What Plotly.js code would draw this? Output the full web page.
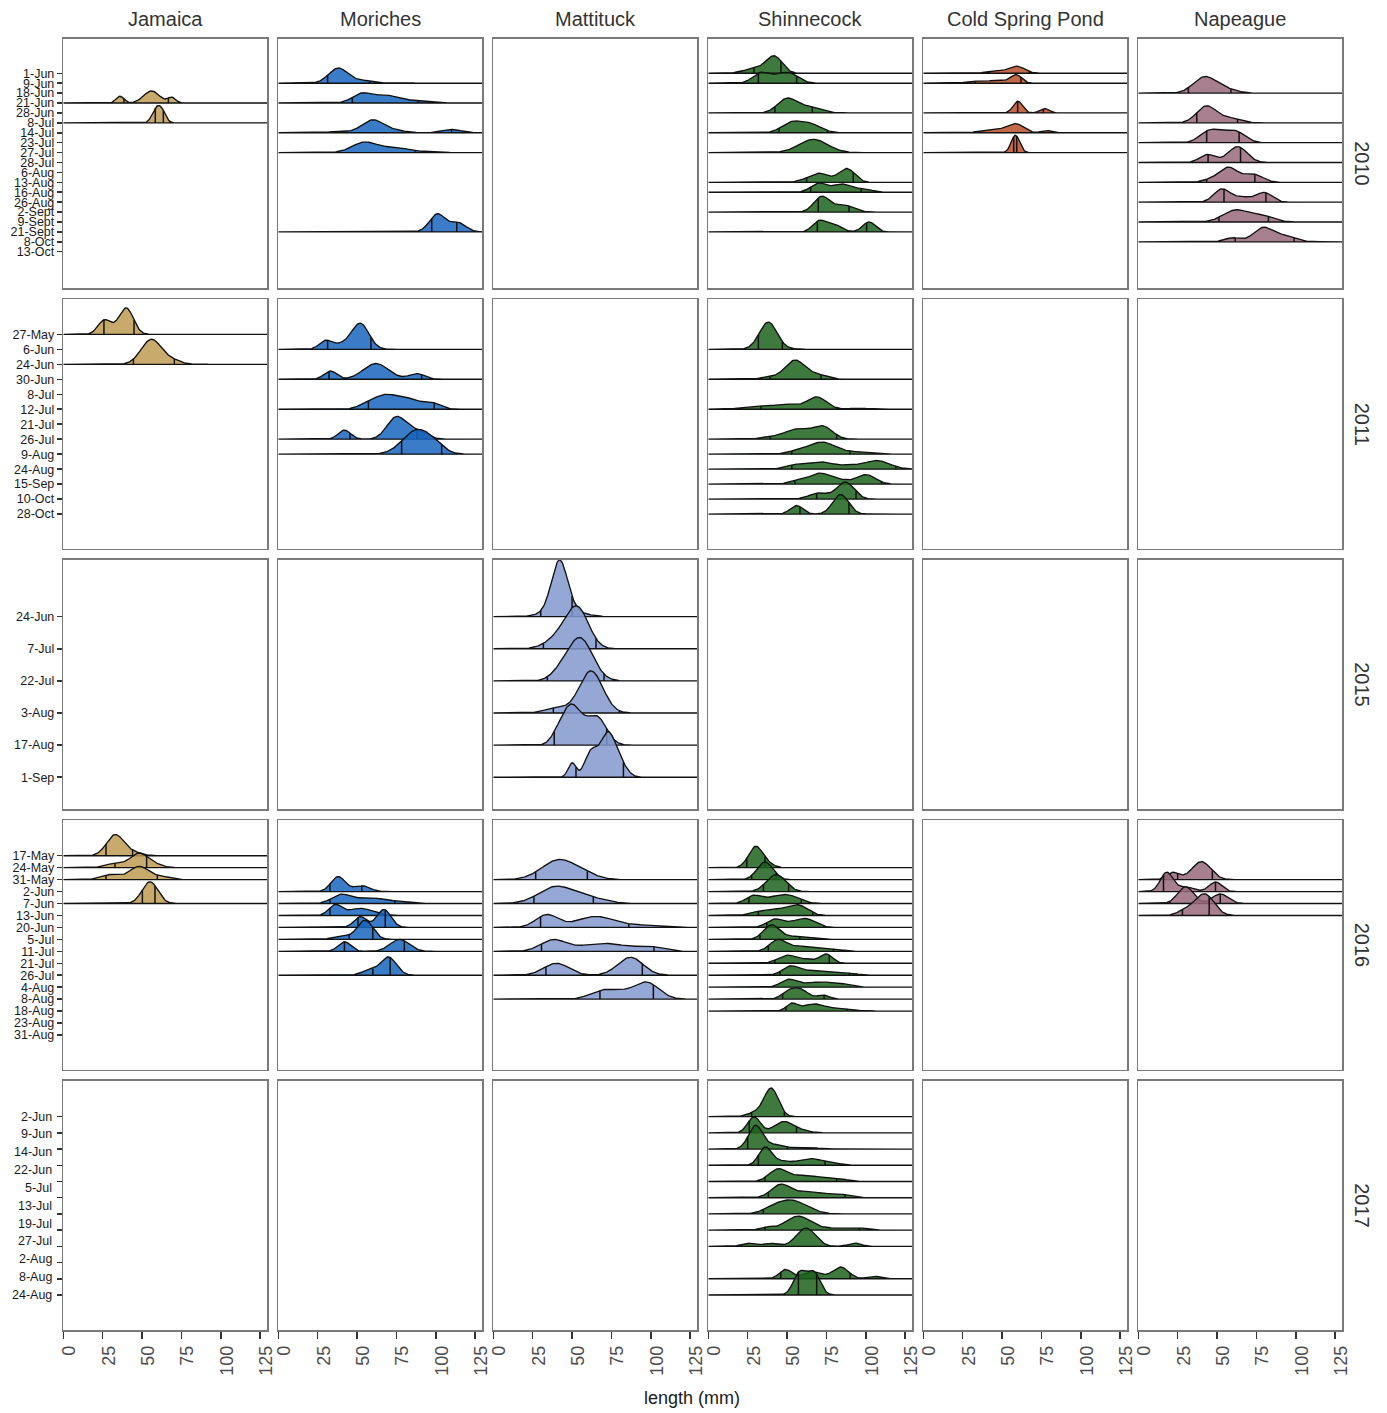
<!DOCTYPE html>
<html>
<head>
<meta charset="utf-8">
<script src="https://cdn.plot.ly/plotly-3.0.1.min.js"></script>
<style>html,body{margin:0;padding:0;background:#fff;}#chart{width:1387px;height:1413px;}</style>
</head>
<body>
<div id="chart"></div>
<script>
// ---------- categories ----------
const sites = ['Jamaica', 'Moriches', 'Mattituck', 'Shinnecock', 'Cold Spring Pond', 'Napeague'];
const years = ['2010', '2011', '2015', '2016', '2017'];
const dates2010 = ['1-Jun','9-Jun','18-Jun','21-Jun','28-Jun','8-Jul','14-Jul','23-Jul','27-Jul','28-Jul','6-Aug','13-Aug','16-Aug','26-Aug','2-Sept','9-Sept','21-Sept','8-Oct','13-Oct'];
const dates2011 = ['27-May','6-Jun','24-Jun','30-Jun','8-Jul','12-Jul','21-Jul','26-Jul','9-Aug','24-Aug','15-Sep','10-Oct','28-Oct'];
const dates2015 = ['24-Jun','7-Jul','22-Jul','3-Aug','17-Aug','1-Sep'];
const dates2016 = ['17-May','24-May','31-May','2-Jun','7-Jun','13-Jun','20-Jun','5-Jul','11-Jul','21-Jul','26-Jul','4-Aug','8-Aug','18-Aug','23-Aug','31-Aug'];
const labels2017 = ['2-Jun','9-Jun','14-Jun','22-Jun','5-Jul','13-Jul','19-Jul','27-Jul','2-Aug','8-Aug','24-Aug'];
const levels2017 = 12; // sampling dates on the 2017 axis (ticks), labels are spread over them
const xTicks = [0, 25, 50, 75, 100, 125];

// ---------- ridge data: lv = date index, comps = [mode, spread, height], q = quantile marks ----------
const jamaica2010 = [
  {lv:3, comps:[[36,2.5,0.68],[56,5,1.22],[68.8,2.5,0.55]], q:[38.5,66.7]},
  {lv:5, comps:[[58.5,2.5,1.2],[62.5,2.5,1.2]], q:[58.4,63.5]}
];
const moriches2010 = [
  {lv:1, comps:[[38,6,1.52],[53,6,0.27],[78,5,0.1]], q:[31.3,58]},
  {lv:3, comps:[[53,6,0.95],[68,7,0.75],[85,8,0.25]], q:[47,88.9]},
  {lv:6, comps:[[38,5,0.15],[60,7,1.3],[75,6,0.2],[110,6,0.33]], q:[38,110]},
  {lv:8, comps:[[55,8,1.05],[75,8,0.5],[95,6,0.1]], q:[37,86.8]},
  {lv:16, comps:[[101,5,1.8],[114,5,0.92]], q:[97.4,113.3]}
];
const shinnecock2010 = [
  {lv:0, comps:[[42,5,1.65],[30,7,0.5]], q:[29,46.1]},
  {lv:1, comps:[[33,5,1.0],[51,6,1.0],[42,5,0.4]], q:[31.8,56.1]},
  {lv:4, comps:[[50,6,1.42],[64,7,0.6]], q:[42.3,66]},
  {lv:6, comps:[[52,6,0.9],[64,7,0.9]], q:[44.9,75.6]},
  {lv:8, comps:[[66.7,9,1.34]], q:[]},
  {lv:11, comps:[[63,5,0.3],[71,5,0.8],[88,5,1.35],[80,5,0.15]], q:[62.4,92]},
  {lv:12, comps:[[70,5,0.9],[85,6,0.82],[99,5,0.3]], q:[65,97]},
  {lv:14, comps:[[72,5,1.55],[86,6,0.7]], q:[69.8,89.3]},
  {lv:16, comps:[[70,4,1.0],[79,5,0.8],[102,4,1.0]], q:[69.2,100.5]}
];
const coldSpring2010 = [
  {lv:0, comps:[[59,5,0.72],[45,5,0.25]], q:[41.7,67.3]},
  {lv:1, comps:[[32,5,0.2],[47,6,0.3],[59,3.5,0.82]], q:[32.8,62]},
  {lv:4, comps:[[60,3,1.18],[77,3,0.43]], q:[59.9,76.2]},
  {lv:6, comps:[[38,5,0.15],[50,6,0.3],[59,5,0.82],[78,3,0.23]], q:[]},
  {lv:8, comps:[[58.5,2.7,1.75]], q:[57.4,59.3]}
];
const napeague2010 = [
  {lv:2, comps:[[42,7,1.6],[55,7,0.4]], q:[31.8,58.8]},
  {lv:5, comps:[[43,6,1.65],[57,7,0.5]], q:[37.1,63]},
  {lv:7, comps:[[45,6,1.1],[53,6,0.45],[62,6,1.05]], q:[43.4,64]},
  {lv:9, comps:[[44,5,0.8],[63,6,1.6]], q:[44.3,64.9]},
  {lv:11, comps:[[57,6,1.5],[73,6,0.8],[45,5,0.2]], q:[43.4,74]},
  {lv:13, comps:[[53,5,1.3],[80,5,0.95],[66,6,0.5]], q:[54.4,81]},
  {lv:15, comps:[[62,8,1.2],[79,7,0.6]], q:[51.2,82.6]},
  {lv:17, comps:[[60,5,0.4],[79,6,1.35],[92,7,0.6]], q:[61.5,98.9]}
];
const jamaica2011 = [
  {lv:0, comps:[[26,4,0.93],[40,4.5,1.73],[33,4,0.15]], q:[25.8,44.9]},
  {lv:2, comps:[[56,6.5,1.67],[70,5,0.23]], q:[44.5,70.5]}
];
const moriches2011 = [
  {lv:1, comps:[[30,4,0.57],[52,5.5,1.73],[40,5,0.3]], q:[31.3,58.8]},
  {lv:3, comps:[[33,4,0.55],[62,8,1.05],[88,5,0.37]], q:[32.2,91]},
  {lv:5, comps:[[68,8,0.95],[82,6,0.55],[96,6,0.47],[55,5,0.2]], q:[57.2,99]},
  {lv:7, comps:[[42,4,0.6],[75,6,1.47],[88,6,0.53]], q:[45.5,88]},
  {lv:8, comps:[[88,9,1.6],[100,6,0.33]], q:[78.3,103.7]}
];
const shinnecock2011 = [
  {lv:1, comps:[[38,5.5,1.74],[40,10,0.08]], q:[31.8,47]},
  {lv:3, comps:[[55,6.5,1.27],[70,6,0.27],[38,5,0.13]], q:[39.2,71.5]},
  {lv:5, comps:[[30,8,0.2],[50,8,0.33],[69,6,0.8],[95,6,0.07]], q:[33.4,82.6]},
  {lv:7, comps:[[57,8,0.67],[73,6,0.8],[40,7,0.13]], q:[39.2,81.5]},
  {lv:8, comps:[[72,9,0.8],[55,6,0.13],[95,7,0.13]], q:[53,90]},
  {lv:9, comps:[[55,6,0.27],[72,8,0.47],[107,8,0.57],[90,6,0.2]], q:[53,119]},
  {lv:10, comps:[[56,5,0.2],[71,7,0.73],[100,6,0.63],[85,5,0.2]], q:[55,110]},
  {lv:11, comps:[[70,6,0.4],[87,5.5,1.13]], q:[68.8,93.8]},
  {lv:12, comps:[[56,4,0.57],[84,5,1.3]], q:[58.2,89.3]}
];
const mattituck2015 = [
  {lv:0, comps:[[42,5,1.5],[44,10,0.27]], q:[30.1,50]},
  {lv:1, comps:[[45,9,0.47],[54,7,1.03]], q:[31.8,65.2]},
  {lv:2, comps:[[55,8,1.33],[42,6,0.19]], q:[34.3,70.3]},
  {lv:3, comps:[[62,7.5,1.31],[40,7,0.16]], q:[38.1,80]},
  {lv:4, comps:[[49,6,1.2],[57.5,5,0.2],[66,6,0.84],[40,4,0.16]], q:[38.7,72]},
  {lv:5, comps:[[50,2.5,0.44],[62,4,0.75],[73,5,1.38],[82,4,0.25]], q:[52.5,82.6]}
];
const jamaica2016 = [
  {lv:0, comps:[[33,5.5,1.76],[45,5,0.25]], q:[27.1,44]},
  {lv:1, comps:[[48,5.5,1.17],[33,6,0.36],[58,5,0.25]], q:[32.8,52.9]},
  {lv:2, comps:[[48,6,1.09],[30,6,0.42],[62,6,0.25]], q:[27.1,59.7]},
  {lv:4, comps:[[55,5,1.82]], q:[50.2,58.2]}
];
const moriches2016 = [
  {lv:3, comps:[[38,4.5,1.25],[53,5,0.5]], q:[32.8,53]},
  {lv:4, comps:[[40,6,0.75],[58,8,0.5],[75,6,0.17]], q:[32.8,74]},
  {lv:5, comps:[[36,4,0.85],[52,8,0.6]], q:[32.8,64.6]},
  {lv:6, comps:[[52,4,0.9],[67,4.5,1.5]], q:[50.6,67.9]},
  {lv:7, comps:[[55,5,1.6],[40,5,0.3]], q:[45,60]},
  {lv:8, comps:[[42,4,0.8],[77,6,1.0]], q:[42,80]},
  {lv:10, comps:[[70,5,1.5],[58,5,0.4]], q:[60,71]}
];
const mattituck2016 = [
  {lv:2, comps:[[42,11,1.67],[60,8,0.25]], q:[26.9,59.7]},
  {lv:4, comps:[[40,11,1.42],[62,10,0.42]], q:[25.8,63.5]},
  {lv:6, comps:[[34,7,1.05],[65,12,0.92],[95,10,0.17]], q:[30,86]},
  {lv:8, comps:[[38,8,0.92],[70,15,0.67],[100,8,0.33]], q:[30.6,102]},
  {lv:10, comps:[[40,8,1.0],[87,8,1.5]], q:[33.4,94.6]},
  {lv:12, comps:[[70,8,0.75],[97,8,1.42],[82,6,0.33]], q:[67.7,101.6]}
];
const shinnecock2016 = [
  {lv:1, comps:[[30,4.5,1.76],[38,4,0.25]], q:[24.4,36]},
  {lv:2, comps:[[36,5,1.48]], q:[27.5,43]},
  {lv:3, comps:[[43,6,1.42]], q:[35,51]},
  {lv:4, comps:[[29,5,0.67],[50,7,0.71],[40,5,0.25]], q:[25.8,59]},
  {lv:5, comps:[[33,6,0.33],[45,6,0.42],[57,6,0.84]], q:[31.8,66.3]},
  {lv:6, comps:[[42,5,0.67],[62,6,0.71],[52,5,0.25]], q:[37.1,73.5]},
  {lv:7, comps:[[40,5,1.17],[55,8,0.25]], q:[32.8,58]},
  {lv:8, comps:[[44,5,0.84],[58,10,0.42],[78,6,0.17]], q:[38.1,79.4]},
  {lv:9, comps:[[50,5,0.63],[62,6,0.33],[75,4,0.75],[42,3,0.08]], q:[42.3,76.8]},
  {lv:10, comps:[[52,5,0.67],[68,10,0.42],[88,6,0.17]], q:[45.5,89.5]},
  {lv:11, comps:[[51,5,0.59],[70,10,0.42],[85,6,0.17]], q:[]},
  {lv:12, comps:[[50,4,0.5],[58,5,0.84],[73,4,0.33]], q:[47.2,73.5]},
  {lv:13, comps:[[53,3.5,0.59],[67,7,0.59],[85,7,0.21]], q:[49.3,88]}
];
const napeague2016 = [
  {lv:2, comps:[[22,4,0.6],[40,6,1.5]], q:[25,47]},
  {lv:3, comps:[[18,4,1.6],[30,5,0.4],[49,4,0.8]], q:[16,49]},
  {lv:4, comps:[[30,5,1.4],[52,5,0.8]], q:[20,52]},
  {lv:5, comps:[[42,6,1.8],[30,5,0.4]], q:[28,45]}
];
const shinnecock2017 = [
  {lv:0, comps:[[40,4.5,1.73],[30,5,0.25]], q:[27.5,48.3]},
  {lv:1, comps:[[29,4,0.98],[48,6,0.7],[60,5,0.12]], q:[26,56]},
  {lv:2, comps:[[30,4.5,1.45],[42,5,0.25],[60,8,0.12]], q:[25,50.2]},
  {lv:3, comps:[[36,4,1.05],[45,6,0.25],[65,8,0.41],[80,5,0.09]], q:[31.8,74.1]},
  {lv:4, comps:[[44,5.5,0.68],[60,10,0.37],[80,7,0.19]], q:[36,81.5]},
  {lv:5, comps:[[46,6,0.8],[63,8,0.37],[82,7,0.22]], q:[38.1,86.8]},
  {lv:6, comps:[[52,10,0.86],[40,5,0.12]], q:[34.9,79]},
  {lv:7, comps:[[57,8,0.86],[37,4,0.19],[80,8,0.12],[96,5,0.12]], q:[36,95.9]},
  {lv:8, comps:[[25,4,0.19],[39,5,0.19],[62,6,1.13],[93,4,0.2]], q:[]},
  {lv:10, comps:[[49,4,0.57],[66,6,0.43],[84,5,0.72],[105,4,0.16]], q:[46,90]},
  {lv:11, comps:[[58,4,1.37],[67,4,1.37]], q:[57.2,68.8]}
];

const panelData = {
  'Jamaica|2010': jamaica2010, 'Moriches|2010': moriches2010, 'Shinnecock|2010': shinnecock2010,
  'Cold Spring Pond|2010': coldSpring2010, 'Napeague|2010': napeague2010,
  'Jamaica|2011': jamaica2011, 'Moriches|2011': moriches2011, 'Shinnecock|2011': shinnecock2011,
  'Mattituck|2015': mattituck2015,
  'Jamaica|2016': jamaica2016, 'Moriches|2016': moriches2016, 'Mattituck|2016': mattituck2016,
  'Shinnecock|2016': shinnecock2016, 'Napeague|2016': napeague2016,
  'Shinnecock|2017': shinnecock2017
};

// ---------- styling ----------
const siteFill = {
  'Jamaica': 'rgba(190,155,84,0.85)',
  'Moriches': 'rgba(23,101,190,0.85)',
  'Mattituck': 'rgba(131,152,204,0.85)',
  'Shinnecock': 'rgba(28,98,28,0.85)',
  'Cold Spring Pond': 'rgba(186,78,42,0.85)',
  'Napeague': 'rgba(152,105,123,0.85)'
};
const FONT = 'Liberation Sans, Arial, Helvetica, sans-serif';
const XMAX = 129.5;
const W = 1387, H = 1413;
const colLeft = 63.3, colW = 204, colGap = 11;
const rowTops = [38.5, 299, 559.5, 820, 1080.5], rowH = 249.5;
const rowRanges = [[21.66, -3.51], [14.30, -2.36], [5.99, -1.78], [17.89, -2.99], [13.16, -2.23]];
const rowLevels = [dates2010, dates2011, dates2015, dates2016, null];

const grid = [];
for (let i = 0; i <= XMAX * 2; i++) grid.push(i / 2);

function dens(comps, x) {
  let s = 0;
  for (const c of comps) { const z = (x - c[0]) / c[1]; s += c[2] * Math.exp(-0.5 * z * z); }
  return s;
}

const traces = [];
const layout = {
  width: W, height: H, margin: {l: 0, r: 0, t: 0, b: 0},
  paper_bgcolor: '#fff', plot_bgcolor: '#fff', showlegend: false,
  font: {family: FONT, color: '#222'},
  annotations: []
};

for (let r = 0; r < years.length; r++) {
  for (let c = 0; c < sites.length; c++) {
    const k = r * sites.length + c + 1;
    const xn = k === 1 ? 'x' : 'x' + k, yn = k === 1 ? 'y' : 'y' + k;
    const xa = k === 1 ? 'xaxis' : 'xaxis' + k, ya = k === 1 ? 'yaxis' : 'yaxis' + k;
    const x0 = colLeft + c * (colW + colGap);
    const top = rowTops[r];
    let tickvals, ticktext;
    if (rowLevels[r]) { tickvals = rowLevels[r].map((d, i) => i); ticktext = rowLevels[r]; }
    else { tickvals = []; ticktext = []; for (let i = 0; i < levels2017; i++) { tickvals.push(i); ticktext.push(''); } }
    layout[xa] = {
      domain: [x0 / W, (x0 + colW) / W], anchor: yn, range: [0, XMAX],
      showline: true, mirror: true, linecolor: '#7a7a7a', linewidth: 1.5,
      showgrid: false, zeroline: false,
      tickvals: xTicks, ticktext: xTicks.map(String),
      ticks: r === years.length - 1 ? 'outside' : '', ticklen: 7, tickwidth: 1.5, tickcolor: '#333',
      showticklabels: r === years.length - 1, tickangle: -90, ticklabelshift: 6,
      tickfont: {size: 18, color: '#4d4d4d', family: FONT}
    };
    layout[ya] = {
      domain: [1 - (top + rowH) / H, 1 - top / H], anchor: xn, range: rowRanges[r],
      showline: true, mirror: true, linecolor: '#7a7a7a', linewidth: 1.5,
      showgrid: false, zeroline: false,
      tickvals: tickvals, ticktext: ticktext,
      ticks: c === 0 ? 'outside' : '', ticklen: 5, tickwidth: 1.5, tickcolor: '#333',
      showticklabels: c === 0, tickfont: {size: 12.5, color: '#1a1a1a', family: FONT}
    };
    traces.push({type: 'scatter', mode: 'markers', x: [-10], y: [0], xaxis: xn, yaxis: yn,
      marker: {opacity: 0}, hoverinfo: 'skip', cliponaxis: true});

    const data = panelData[sites[c] + '|' + years[r]];
    if (!data) continue;
    for (const ridge of data) {
      const ys = grid.map(x => ridge.lv - dens(ridge.comps, x));
      traces.push({
        type: 'scatter', mode: 'lines', xaxis: xn, yaxis: yn, hoverinfo: 'skip',
        x: grid.concat([XMAX, 0]), y: ys.concat([ridge.lv, ridge.lv]),
        fill: 'toself', fillcolor: siteFill[sites[c]],
        line: {color: '#111', width: 1.35}
      });
      if (ridge.q.length) {
        const qx = [], qy = [];
        for (const q of ridge.q) { qx.push(q, q, null); qy.push(ridge.lv, ridge.lv - dens(ridge.comps, q), null); }
        traces.push({
          type: 'scatter', mode: 'lines', xaxis: xn, yaxis: yn, hoverinfo: 'skip',
          x: qx, y: qy, line: {color: '#111', width: 1.5}
        });
      }
    }
  }
}

sites.forEach((s, c) => {
  const x0 = colLeft + c * (colW + colGap);
  layout.annotations.push({text: s, xref: 'paper', yref: 'paper', x: (x0 + colW / 2) / W, y: 1 - 19 / H,
    xanchor: 'center', yanchor: 'middle', showarrow: false, font: {size: 20, color: '#333', family: FONT}});
});
years.forEach((y, r) => {
  layout.annotations.push({text: y, xref: 'paper', yref: 'paper', x: 1362 / W, y: 1 - (rowTops[r] + rowH / 2) / H,
    xanchor: 'center', yanchor: 'middle', textangle: 90, showarrow: false, font: {size: 20, color: '#333', family: FONT}});
});
const y2017 = 'y' + (4 * sites.length + 1);
labels2017.forEach((t, i) => {
  layout.annotations.push({text: t, xref: 'paper', yref: y2017, x: 54 / W,
    y: i * (levels2017 - 1) / (labels2017.length - 1),
    xanchor: 'right', yanchor: 'middle', showarrow: false, font: {size: 12.5, color: '#1a1a1a', family: FONT}});
});
layout.annotations.push({text: 'length (mm)', xref: 'paper', yref: 'paper', x: 692 / W, y: 1 - 1398 / H,
  xanchor: 'center', yanchor: 'middle', showarrow: false, font: {size: 18, color: '#1a1a1a', family: FONT}});

Plotly.newPlot('chart', traces, layout, {displayModeBar: false, staticPlot: true});
</script>
</body>
</html>
